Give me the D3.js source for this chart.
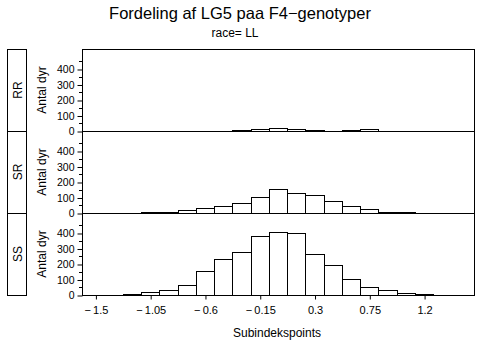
<!DOCTYPE html>
<html>
<head>
<meta charset="utf-8">
<script src="https://cdn.jsdelivr.net/npm/d3@7"></script>
<style>
  html, body { margin: 0; padding: 0; background: #fff; }
  svg { display: block; font-family: "Liberation Sans", Arial, Helvetica, sans-serif; }
</style>
</head>
<body>
<svg id="chart" width="478" height="342"></svg>
<script>
// Bin midpoints (bin width 0.15) and counts per genotype
const binMids = [-1.35, -1.2, -1.05, -0.9, -0.75, -0.6, -0.45, -0.3, -0.15, 0,
                 0.15, 0.3, 0.45, 0.6, 0.75, 0.9, 1.05, 1.2, 1.35];
const binWidth = 0.15;
const genotypes = ["RR", "SR", "SS"];
const countsRR = [0, 0, 0, 0, 0, 0, 0, 5, 10, 22, 12, 6, 0, 6, 10, 0, 0, 0, 0];
const countsSR = [0, 0, 7, 9, 17, 32, 43, 65, 105, 153, 127, 116, 75, 45, 24, 6, 5, 0, 0];
const countsSS = [0, 5, 20, 35, 65, 153, 232, 275, 383, 404, 402, 262, 194, 103, 54, 30, 13, 4, 3];
const xTicks = [-1.5, -1.05, -0.6, -0.15, 0.3, 0.75, 1.2];
const yTicks = [0, 100, 200, 300, 400];
const yMinorTicks = [50, 150, 250, 350, 450];

const titleText = "Fordeling af LG5 paa F4\u2212genotyper";
const subtitleText = "race= LL";
const yLabel = "Antal dyr";
const xLabel = "Subindekspoints";

const seriesByGenotype = { RR: countsRR, SR: countsSR, SS: countsSS };

const svg = d3.select("#chart");
const plotLeft = 82, plotRight = 474, plotTop = 49, panelH = 82;

const x = d3.scaleLinear().domain([-1.61, 1.61]).range([plotLeft, plotRight]);
const y = d3.scaleLinear().domain([0, 529]).range([panelH, 0]);

// Titles
svg.append("text").attr("x", 240).attr("y", 18.5).attr("text-anchor", "middle")
  .attr("font-size", 16.5).attr("fill", "#000").text(titleText);
svg.append("text").attr("x", 235).attr("y", 36.5).attr("text-anchor", "middle")
  .attr("font-size", 12).attr("fill", "#000").text(subtitleText);

genotypes.forEach((g, i) => {
  const py = plotTop + i * panelH;
  const panel = svg.append("g").attr("transform", `translate(0,${py})`);
  const data = binMids.map((m, k) => ({ mid: m, n: seriesByGenotype[g][k] })).filter(d => d.n > 0);

  // Histogram bars
  panel.selectAll("rect.bar").data(data).join("rect")
    .attr("class", "bar")
    .attr("x", d => Math.round(x(d.mid - binWidth / 2)) + 0.5)
    .attr("width", d => Math.round(x(d.mid + binWidth / 2)) - Math.round(x(d.mid - binWidth / 2)))
    .attr("y", d => Math.round(y(d.n)) + 0.5)
    .attr("height", d => panelH - Math.round(y(d.n)))
    .attr("fill", "#fff").attr("stroke", "#000").attr("stroke-width", 1);

  // Y axis with major labels
  const yAxis = panel.append("g").attr("transform", `translate(${plotLeft + 0.5},0.5)`)
    .call(d3.axisLeft(y).tickValues(yTicks).tickSize(5).tickPadding(3));
  yAxis.select(".domain").remove();
  yAxis.selectAll("text").attr("font-size", 10.5).attr("font-family", null).attr("fill", "#000");
  yAxis.selectAll("line").attr("stroke", "#000");

  // Minor ticks
  panel.selectAll("line.minor").data(yMinorTicks).join("line")
    .attr("class", "minor")
    .attr("x1", plotLeft - 3).attr("x2", plotLeft)
    .attr("y1", d => Math.round(y(d)) + 0.5).attr("y2", d => Math.round(y(d)) + 0.5)
    .attr("stroke", "#000");

  // Axis title
  panel.append("text")
    .attr("transform", `translate(42,${panelH / 2}) rotate(-90)`)
    .attr("text-anchor", "middle").attr("dominant-baseline", "central")
    .attr("font-size", 12).attr("fill", "#000").text(yLabel);

  // Strip label box
  panel.append("rect").attr("x", 7.5).attr("y", 0.5).attr("width", 19).attr("height", panelH)
    .attr("fill", "none").attr("stroke", "#000");
  panel.append("text")
    .attr("transform", `translate(17.5,${panelH / 2}) rotate(-90)`)
    .attr("text-anchor", "middle").attr("dominant-baseline", "central")
    .attr("font-size", 12).attr("fill", "#000").text(g);

  // Panel frame
  panel.append("rect").attr("x", plotLeft + 0.5).attr("y", 0.5).attr("width", plotRight - plotLeft).attr("height", panelH)
    .attr("fill", "none").attr("stroke", "#000");
});

// X axis along the bottom panel
const xAxis = svg.append("g").attr("transform", `translate(0.5,${plotTop + 3 * panelH + 0.5})`)
  .call(d3.axisBottom(x).tickValues(xTicks).tickSize(4).tickPadding(7)
    .tickFormat(d => (d < 0 ? "\u2212\u2009" + Math.abs(d) : String(d))));
xAxis.select(".domain").remove();
xAxis.selectAll("text").attr("font-size", 11).attr("font-family", null).attr("fill", "#000");
xAxis.selectAll("line").attr("stroke", "#000");

svg.append("text").attr("x", 277).attr("y", 337).attr("text-anchor", "middle")
  .attr("font-size", 12).attr("fill", "#000").text(xLabel);
</script>
</body>
</html>
